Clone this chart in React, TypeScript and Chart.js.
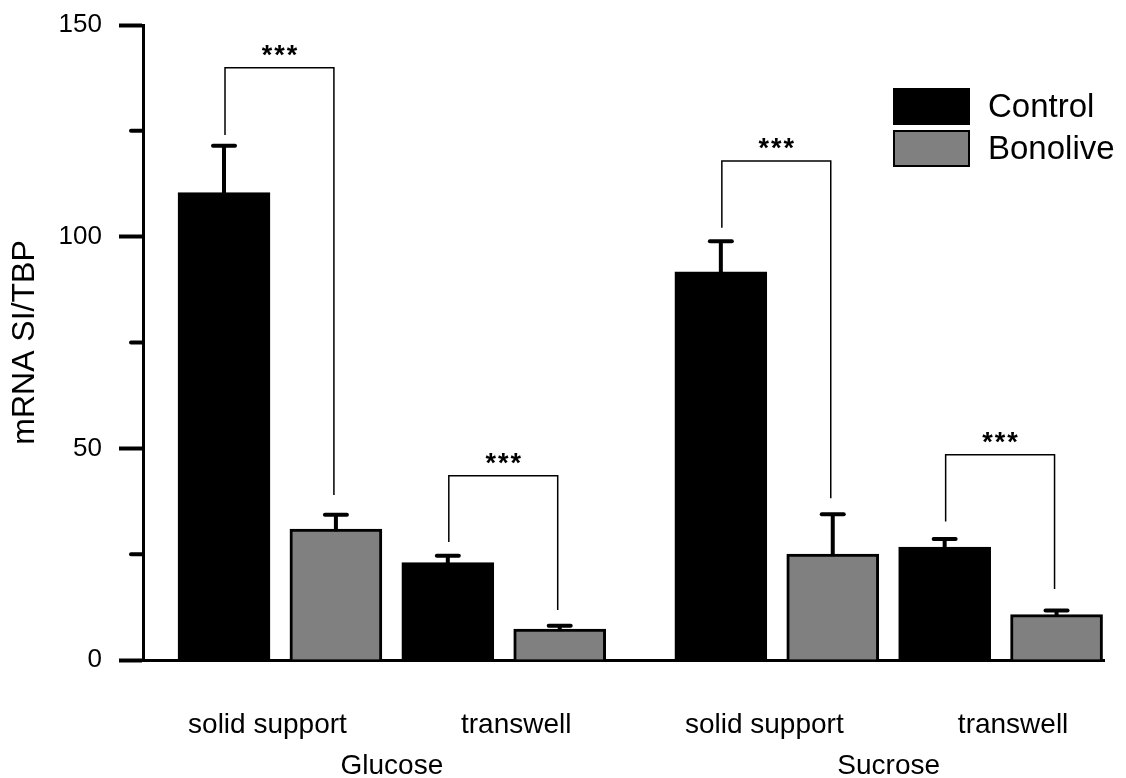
import React, { useEffect, useRef } from "react";
import { Chart, registerables } from "chart.js";

Chart.register(...registerables);

// ---- data ----
const conditions = ["solid support", "transwell", "solid support", "transwell"];
const sugars = ["Glucose", "Sucrose"];
const seriesNames = ["Control", "Bonolive"];
const controlValues = [110.4, 23.0, 91.7, 26.7];
const controlErrors = [11.1, 1.6, 7.2, 1.9];
const bonoliveValues = [30.9, 7.3, 25.0, 10.7];
const bonoliveErrors = [3.4, 0.8, 9.4, 1.0];
const bracketTops = [139.9, 43.5, 117.9, 48.5];
const bracketLeftEnds = [124.0, 27.9, 102.1, 32.7];
const bracketRightEnds = [39.0, 11.8, 38.2, 16.8];
const significance = ["***", "***", "***", "***"];
const yMajorTicks = [0, 50, 100, 150];
const yMinorTicks = [25, 75, 125];

const FONT = '"Liberation Sans", Arial, Helvetica, sans-serif';
const SUGAR_GAP = 0.44;
const seriesColors = ["#000000", "#808080"];

const xPos = (p: number, s: number) => 2 * p + s + (p >= 2 ? SUGAR_GAP : 0);

export default function App() {
  const ref = useRef<HTMLCanvasElement | null>(null);

  useEffect(() => {
    const canvas = ref.current;
    if (!canvas) return;

    const line = (ctx: CanvasRenderingContext2D, x1: number, y1: number, x2: number, y2: number) => {
      ctx.beginPath();
      ctx.moveTo(x1, y1);
      ctx.lineTo(x2, y2);
      ctx.stroke();
    };

    const overlay = {
      id: "overlay",
      afterDatasetsDraw(chart: any) {
        const ctx: CanvasRenderingContext2D = chart.ctx;
        const y = chart.scales.y;
        const errs = [controlErrors, bonoliveErrors];
        const vals = [controlValues, bonoliveValues];
        ctx.save();
        ctx.strokeStyle = "#000";
        // error bars (upper only)
        for (let d = 0; d < 2; d++) {
          const meta = chart.getDatasetMeta(d);
          meta.data.forEach((bar: any, i: number) => {
            const px = bar.x;
            const base = y.getPixelForValue(vals[d][i]) + 2;
            const top = y.getPixelForValue(vals[d][i] + errs[d][i]);
            ctx.lineWidth = 4;
            ctx.lineCap = "butt";
            line(ctx, px, base, px, top);
            ctx.lineCap = "round";
            line(ctx, px - 11, top, px + 11, top);
          });
        }
        // significance brackets
        const m0 = chart.getDatasetMeta(0);
        const m1 = chart.getDatasetMeta(1);
        ctx.lineCap = "butt";
        ctx.lineWidth = 1.5;
        for (let i = 0; i < bracketTops.length; i++) {
          const xl = m0.data[i].x + 1;
          const xr = m1.data[i].x - 2;
          const yt = y.getPixelForValue(bracketTops[i]);
          const yl = y.getPixelForValue(bracketLeftEnds[i]);
          const yr = y.getPixelForValue(bracketRightEnds[i]);
          ctx.beginPath();
          ctx.moveTo(xl, yl);
          ctx.lineTo(xl, yt);
          ctx.lineTo(xr, yt);
          ctx.lineTo(xr, yr);
          ctx.stroke();
          ctx.fillStyle = "#000";
          ctx.font = `bold 27px ${FONT}`;
          (ctx as any).letterSpacing = "2px";
          ctx.textAlign = "center";
          ctx.textBaseline = "middle";
          ctx.fillText(significance[i], (xl + xr) / 2 + 1, yt - 11);
          (ctx as any).letterSpacing = "0px";
        }
        ctx.restore();
      },
      afterDraw(chart: any) {
        const ctx: CanvasRenderingContext2D = chart.ctx;
        const y = chart.scales.y;
        const m0 = chart.getDatasetMeta(0);
        const m1 = chart.getDatasetMeta(1);
        ctx.save();
        // minor ticks
        ctx.strokeStyle = "#000";
        ctx.lineWidth = 4;
        ctx.lineCap = "round";
        yMinorTicks.forEach((v) => {
          const py = y.getPixelForValue(v);
          line(ctx, y.right - 12, py, y.right, py);
        });
        // category labels
        ctx.fillStyle = "#000";
        ctx.textAlign = "center";
        ctx.textBaseline = "alphabetic";
        ctx.font = `28px ${FONT}`;
        conditions.forEach((c, p) => {
          const mid = (m0.data[p].x + m1.data[p].x) / 2 + (p % 2 === 0 ? -12.5 : 12.5);
          ctx.fillText(c, mid, 733);
        });
        sugars.forEach((s, g) => {
          const mid = (m0.data[2 * g].x + m1.data[2 * g + 1].x) / 2;
          ctx.fillText(s, mid, 774);
        });
        // legend
        ctx.textAlign = "left";
        ctx.font = `33px ${FONT}`;
        const boxTops = [89, 131];
        seriesNames.forEach((n, i) => {
          ctx.fillStyle = seriesColors[i];
          ctx.fillRect(894, boxTops[i], 75, 35);
          ctx.lineWidth = 2;
          ctx.lineCap = "butt";
          ctx.strokeStyle = "#000";
          ctx.strokeRect(894, boxTops[i], 75, 35);
          ctx.fillStyle = "#000";
          ctx.fillText(n, 988, boxTops[i] + 28);
        });
        ctx.restore();
      },
    };

    const chart = new Chart(canvas, {
      type: "bar",
      data: {
        datasets: [
          {
            label: seriesNames[0],
            data: controlValues.map((v, p) => ({ x: xPos(p, 0), y: v })),
            backgroundColor: seriesColors[0],
            borderColor: "#000",
            borderWidth: 2,
            grouped: false,
            barThickness: 92,
          } as any,
          {
            label: seriesNames[1],
            data: bonoliveValues.map((v, p) => ({ x: xPos(p, 1), y: v })),
            backgroundColor: seriesColors[1],
            borderColor: "#000",
            borderWidth: 3,
            grouped: false,
            barThickness: 92,
          } as any,
        ],
      },
      options: {
        animation: false,
        responsive: false,
        devicePixelRatio: 1,
        layout: { padding: { left: 0, top: 25, right: 22, bottom: 0 } },
        plugins: {
          legend: { display: false },
          tooltip: { enabled: false },
        },
        scales: {
          x: {
            type: "linear",
            offset: false,
            min: -0.7239,
            max: 7.864,
            grid: { display: false, offset: false },
            ticks: { display: false },
            border: { display: true, color: "#000", width: 3 },
            afterFit: (s: any) => {
              s.height = 118;
              s.paddingLeft = 0;
              s.paddingRight = 0;
            },
          },
          y: {
            min: 0,
            max: 150,
            afterBuildTicks: (s: any) => {
              s.ticks = yMajorTicks.map((v) => ({ value: v }));
            },
            ticks: {
              color: "#000",
              font: { family: FONT, size: 26 },
              padding: 17,
            },
            grid: {
              display: true,
              drawOnChartArea: false,
              drawTicks: true,
              tickLength: 24,
              tickWidth: 4,
              tickColor: "#000",
            },
            border: { display: true, color: "#000", width: 3 },
            title: {
              display: true,
              text: "mRNA SI/TBP",
              color: "#000",
              font: { family: FONT, size: 32 },
              padding: { top: 6, bottom: 0 },
            },
            afterFit: (s: any) => {
              s.width = 143;
              s.paddingTop = 0;
              s.paddingBottom = 0;
            },
          },
        },
      } as any,
      plugins: [overlay],
    });

    return () => chart.destroy();
  }, []);

  return (
    <div style={{ position: "fixed", left: 0, top: 0, width: 1126, height: 778, background: "#fff" }}>
      <canvas ref={ref} width={1126} height={778} style={{ width: 1126, height: 778, display: "block" }} />
    </div>
  );
}
